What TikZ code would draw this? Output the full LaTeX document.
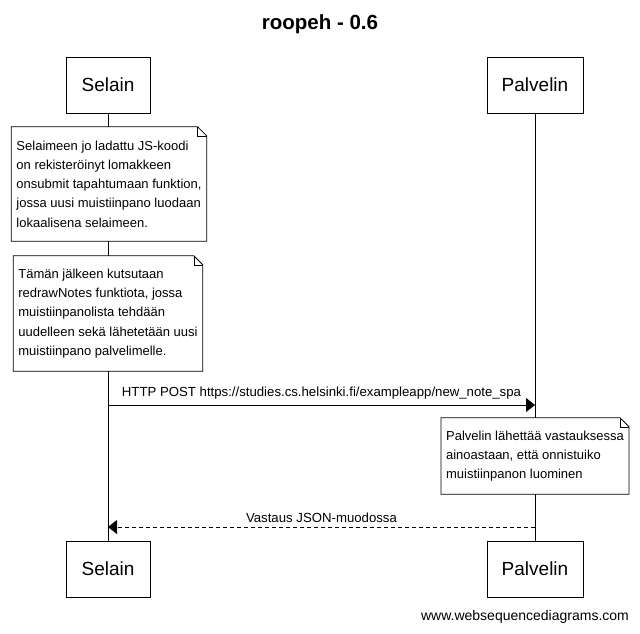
\documentclass[tikz,border=0pt]{standalone}
\usepackage{fontspec}
\setmainfont{Liberation Sans}
\usetikzlibrary{arrows.meta,calc}

\tikzset{
  actor/.style={draw, line width=1pt, minimum height=56pt, inner sep=0pt, font=\fontsize{19}{22}\selectfont},
  note/.style={fill=white, align=left, inner xsep=5pt, inner ysep=0pt, font=\fontsize{13}{19.2}\selectfont},
  msg/.style={line width=0.8pt, -{Triangle[length=9pt,width=14pt]}},
  reply/.style={msg, dash pattern=on 4pt off 3pt},
  lbl/.style={font=\fontsize{13.2}{15}\selectfont, inner sep=0pt}
}

% dog-eared outline round a note node
\newcommand{\earbox}[1]{%
  \draw[line width=0.8pt] (#1.north west) -- ($(#1.north east)+(-9pt,0)$) -- ($(#1.north east)+(0,-9pt)$)
    -- (#1.south east) -- (#1.south west) -- cycle;
  \draw[line width=0.6pt] ($(#1.north east)+(-9pt,0)$) -- ($(#1.north east)+(-9pt,-9pt)$) -- ($(#1.north east)+(0,-9pt)$);
}

\begin{document}
\begin{tikzpicture}[x=1pt,y=-1pt]
\useasboundingbox (0,0) rectangle (640,633);
\node (title) at (320,24) {\fontsize{20.5}{24}\selectfont\bfseries roopeh - 0.6};
\node[actor, minimum width=84pt] (selain) at (108,85) {Selain};
\node[actor, minimum width=96pt] (palvelin) at (535,85) {Palvelin};
\node[actor, minimum width=84pt] (selain2) at (108,569) {Selain};
\node[actor, minimum width=96pt] (palvelin2) at (535,569) {Palvelin};
\draw[line width=0.8pt] (selain) to (selain2) ;
\draw[line width=0.8pt] (palvelin) to (palvelin2) ;
\node[note, minimum height=114pt] (n1) at (109,184) {Selaimeen jo ladattu JS-koodi\\on rekisteröinyt lomakkeen\\onsubmit tapahtumaan funktion,\\jossa uusi muistiinpano luodaan\\lokaalisena selaimeen.};
\earbox{n1}
\node[note, minimum height=115pt] (n2) at (108,313.5) {Tämän jälkeen kutsutaan\\redrawNotes funktiota, jossa\\muistiinpanolista tehdään\\uudelleen sekä lähetetään uusi\\muistiinpano palvelimelle.};
\earbox{n2}
\coordinate (post1) at (108,405) ;
\coordinate (post2) at (535,405) ;
\draw[msg] (post1) to node[lbl, above=5pt] {HTTP POST https://studies.cs.helsinki.fi/exampleapp/new\_note\_spa} (post2) ;
\node[note, minimum height=76pt] (n3) at (535,456) {Palvelin lähettää vastauksessa\\ainoastaan, että onnistuiko\\muistiinpanon luominen};
\earbox{n3}
\coordinate (res1) at (535,527) ;
\coordinate (res2) at (108,527) ;
\draw[reply] (res1) to node[lbl, above=4pt] {Vastaus JSON-muodossa} (res2) ;
\node[font=\fontsize{14}{16}\selectfont, inner sep=0pt] (footer) at (525,617) {www.websequencediagrams.com};
\end{tikzpicture}
\end{document}
